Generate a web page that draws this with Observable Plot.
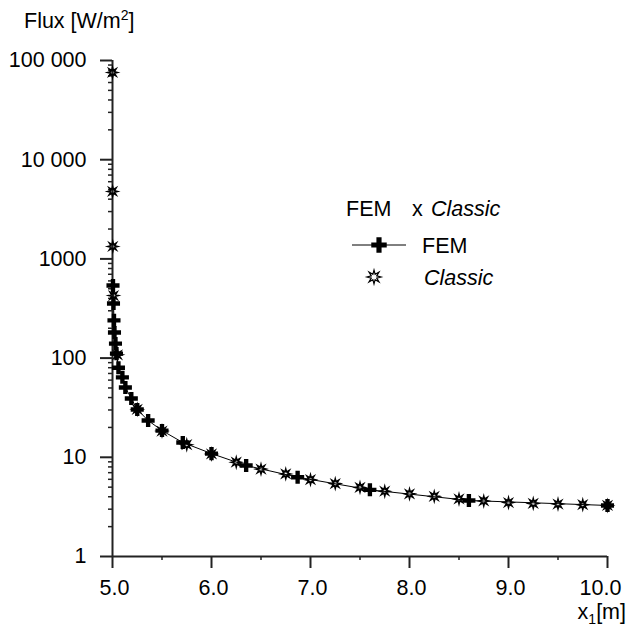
<!DOCTYPE html>
<html>
<head>
<meta charset="utf-8">
<script src="https://cdn.jsdelivr.net/npm/d3@7"></script>
<script src="https://cdn.jsdelivr.net/npm/@observablehq/plot@0.6"></script>
<style>
  html, body { margin: 0; padding: 0; background: #fff; }
  #chart { width: 627px; height: 627px; }
</style>
</head>
<body>
<div id="chart"></div>
<script>
// ---- data ----
const femX = [5.005, 5.01, 5.015, 5.02, 5.03, 5.04, 5.06, 5.10, 5.13, 5.19, 5.25, 5.36, 5.50, 5.71, 6.00, 6.35, 6.87, 7.60, 8.60, 10.0];
const femY = [540, 355, 240, 181, 140, 111, 80, 64, 50.6, 39.2, 30.3, 23.5, 18.6, 14.1, 10.9, 8.26, 6.3, 4.7, 3.67, 3.27];

const classicX = [5.0002, 5.001, 5.003, 5.01, 5.05, 5.25, 5.5, 5.75, 6.0, 6.25, 6.5, 6.75, 7.0, 7.25, 7.5, 7.75, 8.0, 8.25, 8.5, 8.75, 9.0, 9.25, 9.5, 9.75, 10.0];
const classicY = [75800, 4790, 1334, 427, 108, 30.5, 18.4, 13.4, 10.8, 8.93, 7.6, 6.8, 5.95, 5.43, 4.97, 4.55, 4.28, 4.04, 3.8, 3.63, 3.5, 3.43, 3.38, 3.33, 3.27];

const yMajor = [1, 10, 100, 1000, 10000, 100000];
const yMajorLabels = ["1", "10", "100", "1000", "10 000", "100 000"];
const xMajor = [5, 6, 7, 8, 9, 10];
const xMajorLabels = ["5.0", "6.0", "7.0", "8.0", "9.0", "10.0"];
const xMinor = [5.5, 6.5, 7.5, 8.5, 9.5];
const yMinor = [];
for (let p = 0; p < 5; p++) for (let k = 2; k <= 9; k++) yMinor.push(k * Math.pow(10, p));

const seriesNames = ["FEM", "Classic"];

// ---- symbols ----
const star8 = {
  draw(ctx, size) {
    const R = Math.sqrt(size / Math.PI), r = R * 0.42;
    for (let i = 0; i < 16; i++) {
      const a = i * Math.PI / 8 - Math.PI / 2;
      const rr = i % 2 ? r : R;
      const x = rr * Math.cos(a), y = rr * Math.sin(a);
      if (i) ctx.lineTo(x, y); else ctx.moveTo(x, y);
    }
    ctx.closePath();
  }
};
const cross = d3.symbolCross;

const fem = femX.map((x, i) => ({x, y: femY[i]}));
const classic = classicX.map((x, i) => ({x, y: classicY[i]}));

const FONT = "'Liberation Sans', Arial, Helvetica, sans-serif";
const FS = 21.5;
const AX = "#222";

const plot = Plot.plot({
  width: 627,
  height: 627,
  marginLeft: 112,
  marginRight: 20,
  marginTop: 60,
  marginBottom: 71,
  style: {fontFamily: FONT, fontSize: FS + "px", background: "white", color: "black", overflow: "visible"},
  x: {domain: [5, 10]},
  y: {type: "log", domain: [1, 100000]},
  marks: [
    Plot.axisY(yMinor, {tickSize: 4, text: null, stroke: AX, strokeWidth: 1.5, label: null}),
    Plot.axisY(yMajor, {tickSize: 12, tickPadding: 14, stroke: AX, strokeWidth: 2, fontSize: FS,
      tickFormat: d => yMajorLabels[yMajor.indexOf(d)], label: null}),
    Plot.axisX(xMinor, {tickSize: 4, text: null, stroke: AX, strokeWidth: 1.5, label: null}),
    Plot.axisX(xMajor, {tickSize: 12, text: null, stroke: AX, strokeWidth: 2, label: null}),
    Plot.axisX(xMajor.slice(0, -1), {tickSize: 0, tickPadding: 23, dx: 2, fontSize: FS,
      tickFormat: d => xMajorLabels[xMajor.indexOf(d)], label: null}),
    Plot.axisX(xMajor.slice(-1), {tickSize: 0, tickPadding: 23, dx: -7, fontSize: FS,
      tickFormat: d => xMajorLabels[xMajor.indexOf(d)], label: null}),
    Plot.ruleX([5], {stroke: AX, strokeWidth: 2}),
    Plot.ruleY([1], {stroke: AX, strokeWidth: 2}),
    Plot.line(fem, {x: "x", y: "y", stroke: "black", strokeWidth: 1}),
    Plot.dot(fem, {x: "x", y: "y", symbol: cross, r: 5.5, fill: "black", stroke: "none"}),
    Plot.dot(classic, {x: "x", y: "y", symbol: star8, r: 5, fill: "none", stroke: "black", strokeWidth: 1.5})
  ]
});

document.getElementById("chart").appendChild(plot);

const svg = d3.select(plot);

// ---- axis titles with real super/subscripts ----
const tg = svg.append("g").attr("font-family", FONT).attr("font-size", FS).attr("fill", "black").attr("text-anchor", "start");
const t1 = tg.append("text").attr("x", 24).attr("y", 28);
t1.append("tspan").text("Flux [W/m");
t1.append("tspan").attr("font-size", 14).attr("dy", -8).text("2");
t1.append("tspan").attr("dy", 8).text("]");

const t2 = tg.append("text").attr("x", 626).attr("y", 619).attr("text-anchor", "end");
t2.append("tspan").text("x");
t2.append("tspan").attr("font-size", 14).attr("dy", 5).text("1");
t2.append("tspan").attr("dy", -5).text("[m]");

// ---- legend ----
const lg = svg.append("g").attr("font-family", FONT).attr("font-size", FS).attr("fill", "black").attr("text-anchor", "start");
lg.append("text").attr("x", 346).attr("y", 208).attr("dy", "0.35em").text(seriesNames[0]);
lg.append("text").attr("x", 412).attr("y", 208).attr("dy", "0.35em").text("x");
lg.append("text").attr("x", 431).attr("y", 208).attr("dy", "0.35em").attr("font-style", "italic").text(seriesNames[1]);

lg.append("line").attr("x1", 352).attr("x2", 406).attr("y1", 245).attr("y2", 245).attr("stroke", "black").attr("stroke-width", 1);
lg.append("path").attr("transform", "translate(379,245)")
  .attr("d", d3.symbol(cross, Math.PI * 6.5 * 6.5)()).attr("fill", "black");
lg.append("text").attr("x", 422).attr("y", 245).attr("dy", "0.35em").text(seriesNames[0]);

lg.append("path").attr("transform", "translate(374,277)")
  .attr("d", d3.symbol(star8, Math.PI * 7 * 7)()).attr("fill", "white").attr("stroke", "black").attr("stroke-width", 1.2);
lg.append("text").attr("x", 424).attr("y", 277).attr("dy", "0.35em").attr("font-style", "italic").text(seriesNames[1]);
</script>
</body>
</html>
